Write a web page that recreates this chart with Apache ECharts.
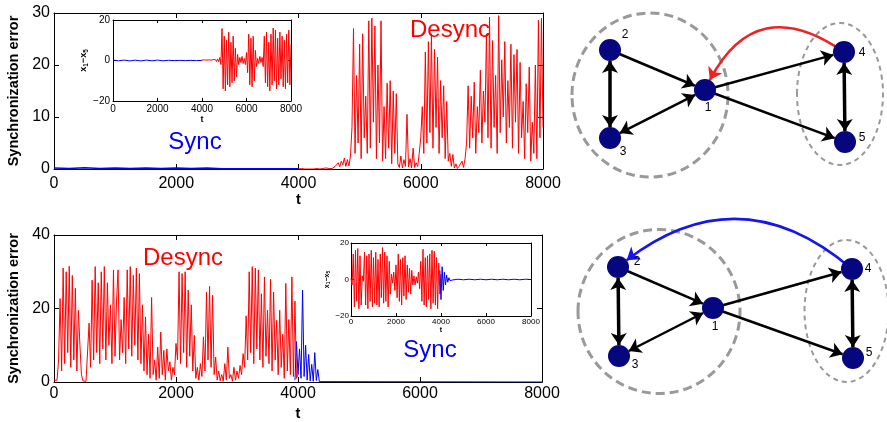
<!DOCTYPE html>
<html>
<head>
<meta charset="utf-8">
<script src="https://cdn.jsdelivr.net/npm/echarts@6/dist/echarts.min.js"></script>
<style>
  html, body { margin: 0; padding: 0; background: #fff; }
  #chart { width: 887px; height: 422px; }
</style>
</head>
<body>
<div id="chart"></div>
<script>
var FONT = '"Liberation Sans", Arial, Helvetica, sans-serif';

//  main traces are sampled every 25 time units, inset traces every 50
var MAIN_DT = 25;
var INSET_DT = 50;

//  top panel: synchronization error (sync 0..4000, desync from 4000)
var topErrSync = [[0, 0.2], [250, 0.1], [500, 0.25], [750, 0.1], [1000, 0.2], [1250, 0.1], [1500, 0.2],
  [1750, 0.1], [2000, 0.2], [2250, 0.1], [2500, 0.2], [2750, 0.05], [3000, 0.05], [3500, 0.05], [4000, 0.05]];
var topErrDesyncStart = 4000;
var topErrDesync = [
  0, 0, 0.1, 0, 0, 0.1, 0, 0,
  0, 0.1, 0, 0, 0.1, 0, 0, 0,
  0.1, 0, 0.2, 0, 0.1, 0.3, 0.1, 0.2,
  0.5, 0.2, 1.2, 0.4, 1.5, 0.8, 2.1, 0.5,
  1.8, 0.6, 2.5, 8, 27, 3, 18, 5,
  24, 2, 26, 6, 14, 3, 28.5, 4,
  29, 9, 27.5, 2, 20, 5, 28.5, 1.5,
  12, 2, 16.5, 4, 17, 1, 15, 3,
  14.5, 1, 0.3, 2.5, 0.2, 1.8, 0.5, 10.5,
  0.4, 2, 0.2, 4, 0.3, 1.2, 0.5, 3,
  6, 12, 3, 22.5, 5, 24.5, 7, 26,
  4, 23, 8, 21.5, 3, 17, 6, 16,
  2, 13, 1.5, 3, 0.5, 2.8, 0.2, 1,
  0.1, 0.5, 0.2, 1.5, 0.3, 2, 5, 16,
  4, 14, 6, 16.7, 3, 12, 7, 19,
  5, 15, 9, 26, 6, 29.2, 4, 24.7,
  8, 18, 3, 29.5, 7, 21, 10, 24.5,
  5, 17, 8, 24, 4, 22, 9, 23,
  3, 20.5, 6, 13, 2, 16.4, 7, 19.6,
  1.5, 9, 3, 20, 2, 28.6, 6, 29,
  8
];

//  top inset: x1 - x5
var topDiffSync = [0.2, -0.15, 0.2, -0.2, 0.15, -0.2, 0.2, -0.15, 0.2, -0.15, 0.1, -0.05, 0.05, -0.05, 0.05, -0.05, 0.05];
var topDiffSyncDt = 250;
var topDiffDesyncStart = 4000;
var topDiffDesync = [
  0.2, -0.2, 0.3, -0.3, 0.2, -0.2, 0.3, -0.3,
  0.2, -0.3, 0.4, -0.2, 0.5, -0.5, 0.8, -0.6,
  1.5, -2, 15.8, -14, 12, -15, 10, -12,
  14, -13, 9, -11, 12, -10, 6, -8,
  3, -2, 1.5, -1, 2, -1.5, 1, -2,
  4, -6, 13, -12, 11, -13, 12, -10,
  5, -3, 1, -1.5, 2, -1, 1.5, -3,
  12, -11, 14, -13, 9, -15, 13, -12,
  16, -10, 15, -14, 11, -12, 14, -9,
  12, -13, 10, -14, 13, -11, 15, -12,
  8
];

//  bottom panel: synchronization error (desync 0..4000, then sync)
var bottomErrDesync = [
  0.5, 1, 0.5, 6, 22.7, 3, 31, 5,
  30, 8, 31.5, 4, 29, 6, 25.5, 3,
  19.5, 10, 2, 0.3, 0.1, 0.2, 0.5, 16,
  4, 27.7, 6, 31.4, 8, 27, 5, 30,
  9, 31.4, 6, 27, 10, 21, 5, 30.5,
  7, 22, 30.5, 6, 17, 8, 23, 5,
  30.5, 9, 31.4, 7, 29, 10, 31, 6,
  29.5, 5, 21, 3, 17.7, 2, 13, 1,
  23, 2, 6, 0.5, 9.5, 1, 13.6, 2,
  8.6, 0.5, 9, 3, 5.5, 0.5, 4, 2,
  10.5, 6, 30, 5, 29.5, 8, 30, 4,
  25, 7, 21, 3, 12.7, 1, 4, 0.5,
  5, 1.5, 12.3, 3, 24.5, 6, 26, 4,
  23.6, 2, 6.8, 0.5, 3, 0.3, 2, 0.2,
  5, 0.5, 9.5, 1, 2, 0.2, 4, 0.5,
  3, 1, 4.5, 2, 7.7, 4, 18, 6,
  30, 8, 31.4, 5, 31, 9, 30.5, 6,
  24, 4, 28.6, 7, 19.5, 5, 28, 3,
  24.5, 6, 16.8, 2, 19.5, 4, 13, 1,
  26.8, 3, 17, 2, 28.6, 1.5, 22, 1,
  2
];
var bottomErrSync = [[3950, 0.5], [3975, 11], [4000, 2], [4025, 9], [4050, 1], [4075, 25], [4100, 1.5],
  [4125, 10], [4150, 0.5], [4175, 7.5], [4200, 0.3], [4225, 4.8], [4250, 0.2], [4275, 8], [4300, 0.4],
  [4325, 3.4], [4350, 0.1], [4375, 0], [8000, 0]];

//  bottom inset: x1 - x5
var bottomDiffDesync = [
  0.5, -3, 14, -15, 16, -12, 17, -16,
  13, -14, 2, -1, 15, -14, 13, -16,
  14, -12, 16, -15, 12, -13, 15, -14,
  11, -15, 14, -10, 17.5, -13, 15, -12,
  13, -15, 10, -8, 3, -2, 4, -6,
  8, -10, 14, -12, 11, -14, 12, -9,
  13, -11, 8, -7, 6, -8, 5, -3,
  2, -3, 1.5, -2, 4, -5, 10, -12,
  16.6, -14, 12, -15, 13, -11, 14, -16,
  16, -13, 15.5, -14, 12, -16, 9, -8,
  3
];
var bottomDiffSync = [[3950, 5], [4000, -11], [4050, 7], [4100, -6], [4150, 4], [4200, -3], [4250, 2.5],
  [4300, -1.5], [4350, 1], [4400, -0.6], [4450, 0.4], [4500, -0.3], [4750, 0.15], [5000, -0.15], [5250, 0.15],
  [5500, -0.15], [5750, 0.15], [6000, -0.15], [6250, 0.15], [6500, -0.15], [6750, 0.15], [7000, -0.15],
  [7250, 0.15], [7500, -0.15], [7750, 0.15], [8000, 0]];

//  network diagrams (node positions in panel units)
var netNodeNames = ['1', '2', '3', '4', '5'];
var netTopPos = [[145, 90], [50, 50], [50, 138], [284, 52], [285, 142]];
var netBottomPos = [[153, 98], [58, 57], [59, 146], [292, 59], [293, 148]];
//  [from, to, two-way]
var netEdges = [[1, 0, false], [2, 0, true], [1, 2, true], [0, 3, false], [0, 4, false], [3, 4, true]];
var netTopFeedback = [3, 0];
var netBottomFeedback = [3, 1];
//  [cx, cy, rx, ry]
var netTopRings = [[90, 95, 78, 82], [280, 94, 43, 71]];
var netBottomRings = [[99, 101.5, 81, 82], [286.5, 101, 42, 71]];

function sampled(start, dt, vals) {
  return vals.map(function (v, i) {
    return [start + i * dt, v];
  });
}

function plainNum(v) {
  return v < 0 ? '\u2212' + Math.abs(v) : String(v);
}

function boxAxes(grid, xr, yr, o) {
  var line = { show: true, onZero: false, lineStyle: { color: '#000', width: 1 } };
  var tick = { show: true, inside: true, length: o.tick, lineStyle: { color: '#000', width: 1 } };
  var label = { color: '#000', fontFamily: FONT, fontSize: o.fontSize, formatter: plainNum };
  var nameStyle = { color: '#000', fontFamily: FONT, fontWeight: 'bold', fontSize: o.nameSize };
  var base = function (extra) {
    return Object.assign({ type: 'value', gridIndex: grid, axisLine: line, axisTick: tick,
      splitLine: { show: false } }, extra);
  };
  return {
    x: [
      base({ position: 'bottom', min: xr[0], max: xr[1], interval: xr[2],
        axisLabel: Object.assign({ margin: o.xMargin }, label),
        name: 't', nameLocation: 'middle', nameGap: o.xNameGap, nameTextStyle: nameStyle }),
      base({ position: 'top', min: xr[0], max: xr[1], interval: xr[2], axisLabel: { show: false } })
    ],
    y: [
      base({ position: 'left', min: yr[0], max: yr[1], interval: yr[2],
        axisLabel: Object.assign({ margin: o.yMargin }, label),
        name: o.yName, nameLocation: 'middle', nameGap: o.yNameGap, nameRotate: 90,
        nameTextStyle: Object.assign({ rich: o.yRich || {} }, nameStyle) }),
      base({ position: 'right', min: yr[0], max: yr[1], interval: yr[2], axisLabel: { show: false } })
    ]
  };
}

var insetRich = function (size) {
  return {
    v: { fontSize: size, fontWeight: 'bold', fontFamily: FONT, color: '#000' },
    s: { fontSize: size * 0.7, fontWeight: 'bold', fontFamily: FONT, color: '#000', padding: [size * 0.5, 0, 0, 0] }
  };
};
var insetName = '{v|x}{s|1}{v|−x}{s|5}';

var axesSets = [
  boxAxes(0, [0, 8000, 2000], [0, 30, 10], { tick: 5, fontSize: 16, nameSize: 14.5, xMargin: 7, yMargin: 4,
    xNameGap: 20, yNameGap: 32, yName: 'Synchronization error' }),
  boxAxes(1, [0, 8000, 2000], [-20, 20, 20], { tick: 3, fontSize: 10, nameSize: 9, xMargin: 3, yMargin: 3,
    xNameGap: 14, yNameGap: 19, yName: insetName, yRich: insetRich(9) }),
  boxAxes(2, [0, 8000, 2000], [0, 40, 20], { tick: 5, fontSize: 16, nameSize: 14.5, xMargin: 4, yMargin: 4,
    xNameGap: 24, yNameGap: 32, yName: 'Synchronization error' }),
  boxAxes(3, [0, 8000, 2000], [-20, 20, 20], { tick: 3, fontSize: 8, nameSize: 7, xMargin: 2, yMargin: 2,
    xNameGap: 10, yNameGap: 17, yName: insetName, yRich: insetRich(7) })
];

var xAxes = [], yAxes = [];
axesSets.forEach(function (s) {
  xAxes = xAxes.concat(s.x);
  yAxes = yAxes.concat(s.y);
});
//  hidden axes for the two network panels
xAxes.push({ type: 'value', gridIndex: 4, min: 0, max: 327, show: false });
yAxes.push({ type: 'value', gridIndex: 4, min: 0, max: 200, inverse: true, show: false });
xAxes.push({ type: 'value', gridIndex: 5, min: 0, max: 327, show: false });
yAxes.push({ type: 'value', gridIndex: 5, min: 0, max: 212, inverse: true, show: false });

function trace(axisIdx, data, color, width) {
  return {
    type: 'line', xAxisIndex: axisIdx, yAxisIndex: axisIdx, data: data,
    showSymbol: false, symbol: 'none', animation: false, silent: true,
    lineStyle: { color: color, width: width }
  };
}

var topLabelOffsets = [[3, 18], [15, -15], [13, 14], [18, 1], [17, -4]];
var bottomLabelOffsets = [[2, 19], [19, -5], [16, 9], [16, 0], [16, -5]];

function netSeries(axisIdx, pos, offsets, feedback, color, curveness) {
  var nodes = pos.map(function (p, i) {
    return { name: netNodeNames[i], value: p, label: { offset: offsets[i] } };
  });
  var links = netEdges.map(function (e) {
    var vertical = Math.abs(pos[e[0]][0] - pos[e[1]][0]) < 3;
    return {
      source: netNodeNames[e[0]], target: netNodeNames[e[1]],
      symbol: e[2] ? ['arrow', 'arrow'] : ['none', 'arrow'],
      lineStyle: { width: vertical ? 3.5 : 2.5 }
    };
  });
  links.push({
    source: netNodeNames[feedback[0]], target: netNodeNames[feedback[1]],
    symbol: ['none', 'arrow'],
    lineStyle: { color: color, width: 2.5, curveness: curveness }
  });
  return {
    type: 'graph', coordinateSystem: 'cartesian2d', xAxisIndex: axisIdx, yAxisIndex: axisIdx,
    symbol: 'circle', symbolSize: 22, z: 3, animation: false, silent: true,
    itemStyle: { color: '#06067f' },
    label: { show: true, position: 'inside', formatter: '{b}', color: '#000', fontSize: 12, fontFamily: FONT },
    edgeSymbol: ['none', 'arrow'], edgeSymbolSize: 12,
    lineStyle: { color: '#000', width: 2.5, opacity: 1, curveness: 0 },
    data: nodes, links: links
  };
}

function ringSeries(axisIdx, rings) {
  return {
    type: 'custom', coordinateSystem: 'cartesian2d', xAxisIndex: axisIdx, yAxisIndex: axisIdx,
    z: 1, animation: false, silent: true, data: rings,
    renderItem: function (params, api) {
      var c = api.coord([api.value(0), api.value(1)]);
      var s = api.size([api.value(2), api.value(3)]);
      var big = params.dataIndex === 0;
      return {
        type: 'ellipse',
        shape: { cx: c[0], cy: c[1], rx: s[0], ry: s[1] },
        style: { fill: 'none', stroke: '#999', lineWidth: big ? 3 : 2, lineDash: big ? [9, 5] : [5, 4] }
      };
    }
  };
}

function bigText(x, y, text, color) {
  return {
    type: 'text', x: x, y: y, silent: true,
    style: { text: text, fill: color, fontSize: 24, fontFamily: FONT,
      align: 'center', verticalAlign: 'middle', textAlign: 'center', textVerticalAlign: 'middle' }
  };
}

var chart = echarts.init(document.getElementById('chart'));
chart.setOption({
  animation: false,
  backgroundColor: '#fff',
  grid: [
    { left: 54, top: 13, width: 489, height: 156, outerBoundsMode: 'none' },
    { left: 113, top: 20, width: 178, height: 81, show: true, backgroundColor: '#fff', borderWidth: 0, outerBoundsMode: 'none' },
    { left: 54, top: 235, width: 488, height: 147, outerBoundsMode: 'none' },
    { left: 351, top: 243, width: 180, height: 73, show: true, backgroundColor: '#fff', borderWidth: 0, outerBoundsMode: 'none' },
    { left: 560, top: 0, width: 327, height: 200, outerBoundsMode: 'none' },
    { left: 560, top: 210, width: 327, height: 212, outerBoundsMode: 'none' }
  ],
  xAxis: xAxes,
  yAxis: yAxes,
  series: [
    trace(0, topErrSync, '#0000ff', 1.5),
    trace(0, sampled(topErrDesyncStart, MAIN_DT, topErrDesync), '#ff0000', 1),
    trace(2, sampled(0, topDiffSyncDt, topDiffSync), '#0000ff', 1),
    trace(2, sampled(topDiffDesyncStart, INSET_DT, topDiffDesync), '#ff0000', 1),
    trace(4, sampled(0, MAIN_DT, bottomErrDesync), '#ff0000', 1),
    trace(4, bottomErrSync, '#0000ff', 1),
    trace(6, sampled(0, INSET_DT, bottomDiffDesync), '#ff0000', 1),
    trace(6, bottomDiffSync, '#0000ff', 1),
    ringSeries(8, netTopRings),
    netSeries(8, netTopPos, topLabelOffsets, netTopFeedback, '#ee2222', -0.6),
    ringSeries(9, netBottomRings),
    netSeries(9, netBottomPos, bottomLabelOffsets, netBottomFeedback, '#1515ee', -0.42)
  ],
  graphic: [
    bigText(450, 30, 'Desync', '#ff0000'),
    bigText(195, 142, 'Sync', '#0000ff'),
    bigText(183, 258, 'Desync', '#ff0000'),
    bigText(430, 350, 'Sync', '#0000ff')
  ]
});
</script>
</body>
</html>
